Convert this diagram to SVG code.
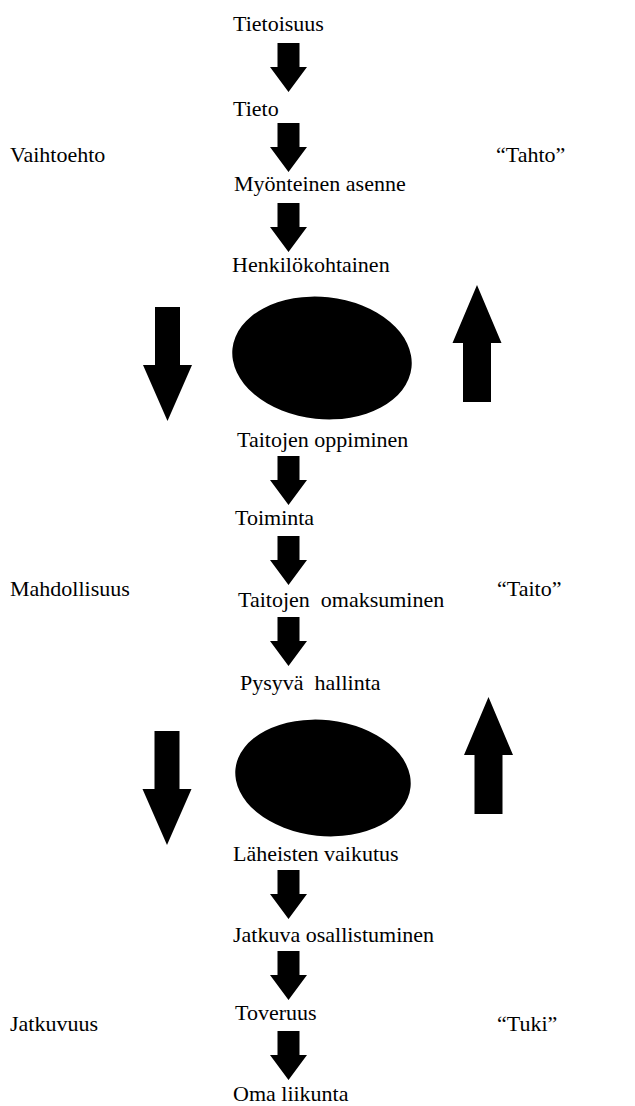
<svg xmlns="http://www.w3.org/2000/svg" xmlns:xlink="http://www.w3.org/1999/xlink" width="635" height="1106" viewBox="0 0 635 1106">
  <style>
    .blk { fill: #000; stroke: none; }
  </style>
  <defs>
    <!-- small block arrow pointing down, origin at top centre of the shaft -->
    <path id="small-down" class="blk" d="M -11 0 H 11 V 24 H 18.5 L 0 49 L -18.5 24 H -11 Z"/>
    <!-- large block arrow pointing down -->
    <path id="big-down" class="blk" d="M -12.5 0 H 12.5 V 58 H 24.5 L 0 114 L -24.5 58 H -12.5 Z"/>
    <!-- large block arrow pointing up, origin at the tip -->
    <path id="big-up" class="blk" d="M 0 0 L 24.5 58 H 14 V 117 H -14 V 58 H -24.5 Z"/>
  </defs>

  <rect width="635" height="1106" fill="#fff"/>

  <g font-family="'Liberation Serif', 'Times New Roman', serif" font-size="22" fill="#000">
    <!-- main chain -->
    <g id="n-tietoisuus"><text x="233" y="31">Tietoisuus</text></g>
    <g id="n-tieto"><text x="233" y="116">Tieto</text></g>
    <g id="n-myonteinen"><text x="234" y="191">Myönteinen asenne</text></g>
    <g id="n-henkilokohtainen"><text x="232" y="272">Henkilökohtainen</text></g>
    <g id="n-blob-1"><ellipse class="blk" cx="322" cy="358" rx="90" ry="61" transform="rotate(6 322 358)"/></g>
    <g id="n-taitojen-oppiminen"><text x="237" y="447">Taitojen oppiminen</text></g>
    <g id="n-toiminta"><text x="235" y="525">Toiminta</text></g>
    <g id="n-taitojen-omaksuminen"><text x="238" y="607" xml:space="preserve">Taitojen  omaksuminen</text></g>
    <g id="n-pysyva-hallinta"><text x="240" y="690" xml:space="preserve">Pysyvä  hallinta</text></g>
    <g id="n-blob-2"><ellipse class="blk" cx="323" cy="778" rx="88" ry="58" transform="rotate(6 323 778)"/></g>
    <g id="n-laheisten-vaikutus"><text x="233" y="861">Läheisten vaikutus</text></g>
    <g id="n-jatkuva-osallistuminen"><text x="233" y="942">Jatkuva osallistuminen</text></g>
    <g id="n-toveruus"><text x="235" y="1020">Toveruus</text></g>
    <g id="n-oma-liikunta"><text x="233" y="1101">Oma liikunta</text></g>

    <!-- side labels -->
    <g id="n-vaihtoehto"><text x="10" y="162">Vaihtoehto</text></g>
    <g id="n-tahto"><text x="496" y="162">“Tahto”</text></g>
    <g id="n-mahdollisuus"><text x="10" y="596">Mahdollisuus</text></g>
    <g id="n-taito"><text x="497" y="596">“Taito”</text></g>
    <g id="n-jatkuvuus"><text x="10" y="1031">Jatkuvuus</text></g>
    <g id="n-tuki"><text x="497" y="1031">“Tuki”</text></g>
  </g>

  <!-- connectors -->
  <g id="connectors">
    <use xlink:href="#small-down" x="288.5" y="43"/>
    <use xlink:href="#small-down" x="288.5" y="123"/>
    <use xlink:href="#small-down" x="288.5" y="203"/>
    <use xlink:href="#small-down" x="288.5" y="456"/>
    <use xlink:href="#small-down" x="288.5" y="536"/>
    <use xlink:href="#small-down" x="288.5" y="617"/>
    <use xlink:href="#small-down" x="288.5" y="870"/>
    <use xlink:href="#small-down" x="288.5" y="951"/>
    <use xlink:href="#small-down" x="288.5" y="1031"/>
    <use xlink:href="#big-down" x="167.5" y="307"/>
    <use xlink:href="#big-up" x="477" y="285"/>
    <use xlink:href="#big-down" x="167" y="731"/>
    <use xlink:href="#big-up" x="488.5" y="697"/>
  </g>
</svg>
